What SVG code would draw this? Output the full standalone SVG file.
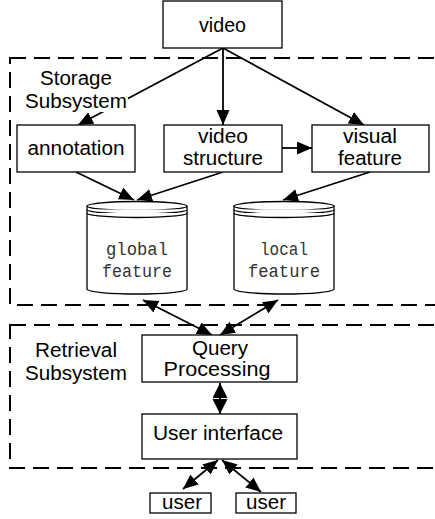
<svg xmlns="http://www.w3.org/2000/svg" width="435" height="519" viewBox="0 0 435 519">
<style>
.box{fill:#fff;stroke:#000;stroke-width:1.3}
.dash{fill:none;stroke:#000;stroke-width:2;stroke-dasharray:16 8}
.t{font-family:"Liberation Sans",Arial,sans-serif;font-size:20px;fill:#000;text-anchor:middle}
.tl{font-family:"Liberation Sans",Arial,sans-serif;font-size:20px;fill:#000}
.m{font-family:"Liberation Mono","Courier New",monospace;font-size:19px;fill:#333;text-anchor:middle}
.c{fill:none;stroke:#000;stroke-width:1.8}
.cyl{fill:#fff;stroke:#000;stroke-width:1.3}
</style>
<defs>
<marker id="ah" markerUnits="userSpaceOnUse" markerWidth="16" markerHeight="14" refX="15" refY="6.5" orient="auto-start-reverse">
<path d="M0,0 L15,6.5 L0,13 z" fill="#000"/>
</marker>
<marker id="ahb" markerUnits="userSpaceOnUse" markerWidth="16" markerHeight="16" refX="15" refY="7.5" orient="auto-start-reverse">
<path d="M0,0 L15,7.5 L0,15 z" fill="#000"/>
</marker>
</defs>

<g id="storage-subsystem">
<rect class="dash" x="10" y="58" width="440" height="247"/>
</g>
<g id="retrieval-subsystem">
<rect class="dash" x="10" y="325" width="440" height="143"/>
<text class="tl" x="35" y="357" textLength="82" lengthAdjust="spacingAndGlyphs">Retrieval</text>
<text class="tl" x="25" y="380" textLength="102" lengthAdjust="spacingAndGlyphs">Subsystem</text>
</g>

<g id="connectors">
<line class="c" x1="223" y1="48" x2="78" y2="125" marker-end="url(#ah)"/>
<line class="c" x1="223" y1="48" x2="223" y2="125" marker-end="url(#ah)"/>
<line class="c" x1="223" y1="48" x2="364" y2="125" marker-end="url(#ah)"/>
<line class="c" x1="282" y1="148" x2="312" y2="148" marker-end="url(#ah)"/>
<line class="c" x1="76" y1="172" x2="134" y2="200" marker-end="url(#ah)"/>
<line class="c" x1="223" y1="172" x2="137" y2="200" marker-end="url(#ah)"/>
<line class="c" x1="370" y1="172" x2="283" y2="200" marker-end="url(#ah)"/>
<line class="c" x1="143" y1="300" x2="212" y2="335" marker-start="url(#ah)" marker-end="url(#ah)"/>
<line class="c" x1="278" y1="300" x2="220" y2="335" marker-start="url(#ah)" marker-end="url(#ah)"/>
<line class="c" x1="220" y1="383" x2="220" y2="414" marker-start="url(#ahb)" marker-end="url(#ahb)"/>
<line class="c" x1="218" y1="460" x2="183" y2="489" marker-start="url(#ah)" marker-end="url(#ah)"/>
<line class="c" x1="222" y1="460" x2="261" y2="492" marker-start="url(#ah)" marker-end="url(#ah)"/>
</g>

<g id="storage-label">
<rect x="25" y="70" width="103" height="42" fill="#fff"/>
<text class="tl" x="40" y="85" textLength="72" lengthAdjust="spacingAndGlyphs">Storage</text>
<text class="tl" x="25" y="108" textLength="102" lengthAdjust="spacingAndGlyphs">Subsystem</text>
</g>

<g id="video">
<rect class="box" x="163" y="1" width="119" height="47"/>
<text class="t" x="222.5" y="32" textLength="47" lengthAdjust="spacingAndGlyphs">video</text>
</g>
<g id="annotation">
<rect class="box" x="17" y="125" width="118" height="47"/>
<text class="t" x="76" y="155" textLength="97" lengthAdjust="spacingAndGlyphs">annotation</text>
</g>
<g id="video-structure">
<rect class="box" x="164" y="125" width="118" height="47"/>
<text class="t" x="223" y="143" textLength="50" lengthAdjust="spacingAndGlyphs">video</text>
<text class="t" x="223" y="165" textLength="80" lengthAdjust="spacingAndGlyphs">structure</text>
</g>
<g id="visual-feature">
<rect class="box" x="312" y="125" width="117" height="47"/>
<text class="t" x="370" y="143" textLength="54" lengthAdjust="spacingAndGlyphs">visual</text>
<text class="t" x="370" y="165" textLength="64" lengthAdjust="spacingAndGlyphs">feature</text>
</g>

<g id="global-feature">
<path class="cyl" d="M87,206 L87,289 A50,5 0 0 0 187,289 L187,206"/>
<ellipse class="cyl" cx="137" cy="206" rx="50" ry="4.5"/>
<path class="cyl" fill="none" d="M87,209.5 A50,4.5 0 0 0 187,209.5"/>
<path class="cyl" fill="none" d="M87,213 A50,4.5 0 0 0 187,213"/>
<text class="m" x="137" y="255" textLength="62" lengthAdjust="spacingAndGlyphs">global</text>
<text class="m" x="137" y="277" textLength="70" lengthAdjust="spacingAndGlyphs">feature</text>
</g>
<g id="local-feature">
<path class="cyl" d="M234,206 L234,289 A50,5 0 0 0 334,289 L334,206"/>
<ellipse class="cyl" cx="284" cy="206" rx="50" ry="4.5"/>
<path class="cyl" fill="none" d="M234,209.5 A50,4.5 0 0 0 334,209.5"/>
<path class="cyl" fill="none" d="M234,213 A50,4.5 0 0 0 334,213"/>
<text class="m" x="284" y="255" textLength="48" lengthAdjust="spacingAndGlyphs">local</text>
<text class="m" x="284" y="277" textLength="72" lengthAdjust="spacingAndGlyphs">feature</text>
</g>

<g id="query-processing">
<rect class="box" x="142" y="335" width="155" height="47"/>
<text class="t" x="220" y="355" textLength="56" lengthAdjust="spacingAndGlyphs">Query</text>
<text class="t" x="217" y="376" textLength="107" lengthAdjust="spacingAndGlyphs">Processing</text>
</g>
<g id="user-interface">
<rect class="box" x="142" y="414" width="155" height="45"/>
<text class="t" x="218" y="440" textLength="130" lengthAdjust="spacingAndGlyphs">User interface</text>
</g>
<g id="user1">
<rect class="box" x="150" y="493" width="61" height="20"/>
<text class="t" x="182" y="509" textLength="40" lengthAdjust="spacingAndGlyphs">user</text>
</g>
<g id="user2">
<rect class="box" x="236" y="493" width="60" height="20"/>
<text class="t" x="266" y="509" textLength="40" lengthAdjust="spacingAndGlyphs">user</text>
</g>
</svg>
